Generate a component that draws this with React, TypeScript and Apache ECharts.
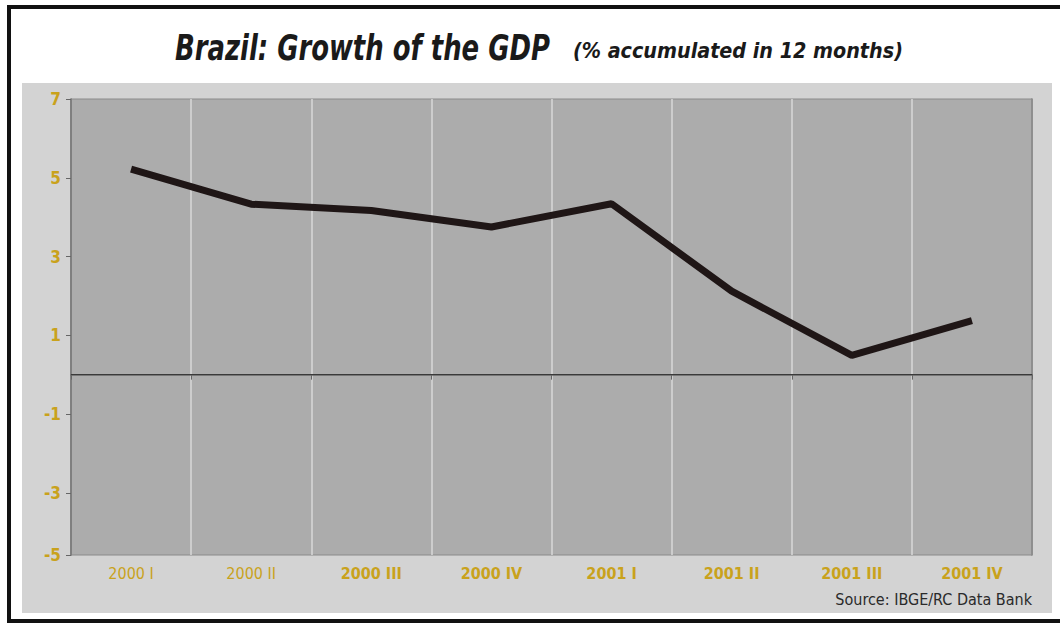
import React, { useEffect, useRef } from "react";
import * as echarts from "echarts";

const categories = ["2000 I", "2000 II", "2000 III", "2000 IV", "2001 I", "2001 II", "2001 III", "2001 IV"];
const gdpGrowth = [5.22, 4.33, 4.17, 3.75, 4.34, 2.12, 0.49, 1.37];
const yTickValues = [7, 5, 3, 1, -1, -3];
const yAxisMax = 7;
const yAxisMin = -4.58;
const yBottomLabel = "-5";
const titleText = "Brazil: Growth of the GDP";
const subtitleText = "(% accumulated in 12 months)";
const sourceText = "Source: IBGE/RC Data Bank";

const NARROW = '"Liberation Sans Narrow", "DejaVu Sans Condensed", "Arial Narrow", sans-serif';
const GOLD = "#c9a21c";

export default function App() {
  const ref = useRef<HTMLDivElement>(null);
  useEffect(() => {
    document.body.style.margin = "0";
    const chart = echarts.init(ref.current!, null, { renderer: "svg" });
    const yLabelValues = [...yTickValues, yAxisMin];
    chart.setOption({
      animation: false,
      backgroundColor: "#ffffff",
      graphic: [
        {
          type: "rect",
          z: -100,
          shape: { x: 9, y: 7, width: 1060, height: 614 },
          style: { fill: "#ffffff", stroke: "#111111", lineWidth: 4 },
        },
        {
          type: "rect",
          z: -99,
          shape: { x: 22, y: 83, width: 1030, height: 530 },
          style: { fill: "#d3d3d3" },
        },
        {
          type: "text",
          x: 175,
          y: 30,
          scaleX: 0.8,
          style: {
            text: titleText,
            font: `italic bold 36px ${NARROW}`,
            fill: "#1a1a1a",
            verticalAlign: "top",
          },
        },
        {
          type: "text",
          x: 573,
          y: 39,
          scaleX: 0.97,
          style: {
            text: subtitleText,
            font: `italic bold 22px ${NARROW}`,
            fill: "#1a1a1a",
            verticalAlign: "top",
          },
        },
        {
          type: "text",
          right: 28,
          top: 591,
          style: {
            text: sourceText,
            font: `16px ${NARROW}`,
            fill: "#2a2a2a",
          },
        },
      ],
      grid: {
        left: 71,
        top: 99,
        width: 961,
        height: 456,
        show: true,
        backgroundColor: "#acacac",
        borderColor: "#8a8a8a",
        borderWidth: 1,
      },
      xAxis: {
        type: "category",
        data: categories,
        boundaryGap: true,
        axisLine: { lineStyle: { color: "#666666", width: 1.5 } },
        axisTick: { show: true, length: 5, lineStyle: { color: "#666666" } },
        splitLine: { show: true, lineStyle: { color: "#d9d9d9", width: 1.5 } },
        axisLabel: {
          margin: 10,
          formatter: (v: string, i: number) => (i < 2 ? `{n|${v}}` : `{b|${v}}`),
          rich: {
            n: { fontFamily: NARROW, fontSize: 16, color: GOLD, fontWeight: "normal" },
            b: { fontFamily: NARROW, fontSize: 16, color: GOLD, fontWeight: "bold" },
          },
        },
      },
      yAxis: [
        {
          type: "value",
          min: yAxisMin,
          max: yAxisMax,
          axisLine: { show: true, lineStyle: { color: "#666666", width: 1.5 } },
          axisTick: { show: true, length: 5, customValues: yLabelValues, lineStyle: { color: "#666666" } },
          splitLine: { show: false },
          axisLabel: {
            customValues: yLabelValues,
            margin: 10,
            fontFamily: NARROW,
            fontSize: 17,
            fontWeight: "bold",
            color: GOLD,
            formatter: (v: number) => (Math.abs(v - yAxisMin) < 1e-6 ? yBottomLabel : String(v)),
          },
        },
        {
          type: "value",
          position: "right",
          min: yAxisMin,
          max: yAxisMax,
          axisLine: { show: true, lineStyle: { color: "#7a7a7a", width: 1.5 } },
          axisTick: { show: false },
          axisLabel: { show: false },
          splitLine: { show: false },
        },
      ],
      series: [
        {
          type: "line",
          data: gdpGrowth,
          symbol: "none",
          lineStyle: { color: "#1f1616", width: 7 },
          markLine: {
            silent: true,
            symbol: "none",
            label: { show: false },
            lineStyle: { color: "#3a3a3a", width: 1, type: "solid" },
            data: [{ yAxis: 0 }],
          },
        },
      ],
    });
    return () => chart.dispose();
  }, []);
  return <div ref={ref} style={{ position: "fixed", left: 0, top: 0, width: 1060, height: 625 }} />;
}
